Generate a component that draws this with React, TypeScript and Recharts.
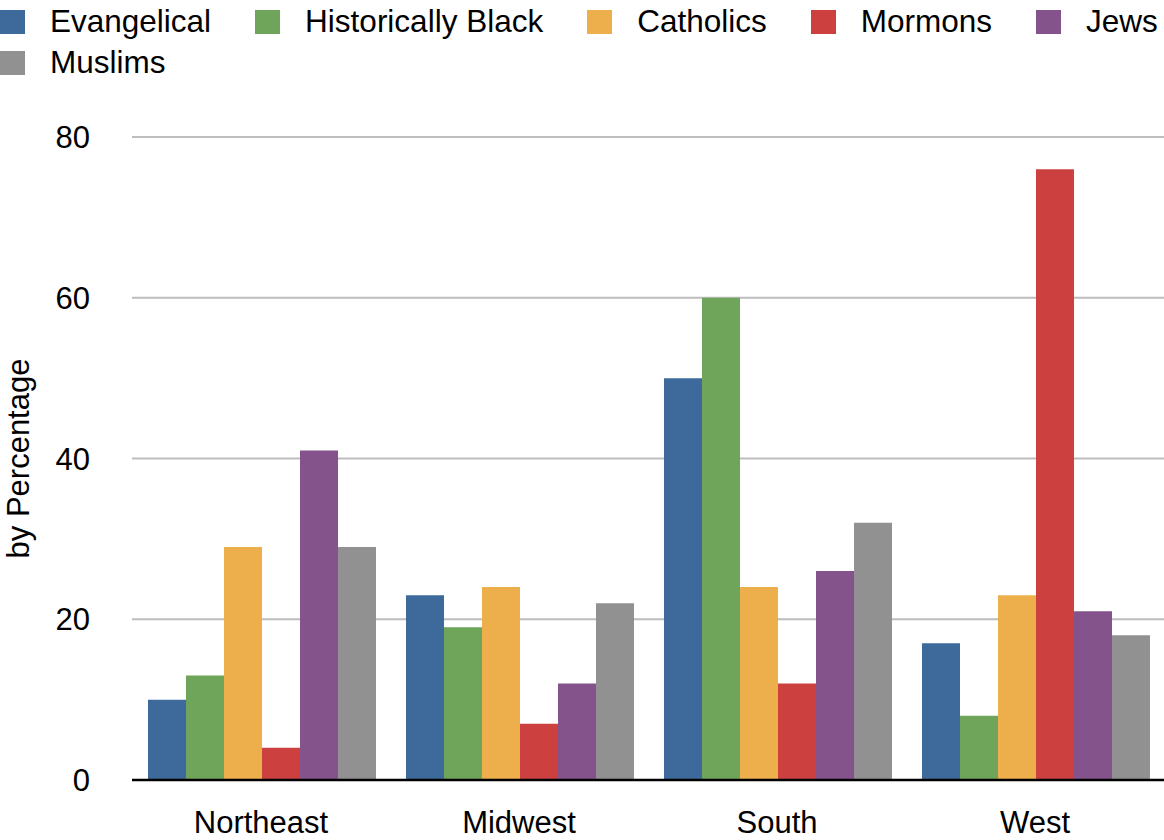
import React from 'react';
import { BarChart, Bar, XAxis, YAxis, CartesianGrid } from 'recharts';

const regions = ['Northeast', 'Midwest', 'South', 'West'];
const evangelical = [10, 23, 50, 17];
const historicallyBlack = [13, 19, 60, 8];
const catholics = [29, 24, 24, 23];
const mormons = [4, 7, 12, 76];
const jews = [41, 12, 26, 21];
const muslims = [29, 22, 32, 18];
const yTicks = [0, 20, 40, 60, 80];

const seriesNames = ['Evangelical', 'Historically Black', 'Catholics', 'Mormons', 'Jews', 'Muslims'];
const seriesValues = [evangelical, historicallyBlack, catholics, mormons, jews, muslims];
const seriesColors = ['#3d6a9b', '#6ea55a', '#ecaf4c', '#cc4140', '#84538c', '#909190'];
const legendRows = [[0, 1, 2, 3, 4], [5]];

const data = regions.map((r, i) => {
  const row: Record<string, string | number> = { region: r };
  seriesNames.forEach((s, k) => {
    row[s] = seriesValues[k][i];
  });
  return row;
});

const FONT = '"Liberation Sans", Arial, Helvetica, sans-serif';

const YLabel = (props: any) => {
  const vb = props.viewBox || {};
  const x = (vb.x || 0) + 18;
  const y = (vb.y || 0) + (vb.height || 0) / 2;
  return (
    <text
      x={x}
      y={y}
      transform={`rotate(-90, ${x}, ${y})`}
      textAnchor="middle"
      dominantBaseline="central"
      fontSize={31}
      fontFamily={FONT}
      fill="#000"
    >
      by Percentage
    </text>
  );
};

export default function App() {
  return (
    <div style={{ position: 'absolute', left: 0, top: 0, width: 1164, height: 840, overflow: 'hidden', background: '#fff', fontFamily: FONT }}>
      <div style={{ position: 'absolute', left: 0, top: 0, width: 1164, zIndex: 2 }}>
        {legendRows.map((row, ri) => (
          <div key={ri} style={{ display: 'flex', alignItems: 'center', height: 41, marginTop: ri === 0 ? 1 : 0, whiteSpace: 'nowrap' }}>
            {row.map((k, j) => (
              <div key={k} style={{ display: 'flex', alignItems: 'center', marginRight: j === row.length - 1 ? 0 : 44 }}>
                <div style={{ width: 25, height: 24, background: seriesColors[k], marginRight: 25, flex: 'none' }} />
                <span style={{ fontSize: 31.5, lineHeight: '41px', color: '#000' }}>{seriesNames[k]}</span>
              </div>
            ))}
          </div>
        ))}
      </div>
      <BarChart
        width={1164}
        height={840}
        data={data}
        margin={{ top: 137, right: 0, bottom: 0, left: 0 }}
        barCategoryGap={16}
        barGap={0}
      >
        <CartesianGrid horizontal vertical={false} stroke="#bdbdbd" strokeWidth={2} />
        <XAxis
          dataKey="region"
          height={60}
          tickLine={false}
          tickSize={0}
          tickMargin={31}
          axisLine={{ stroke: '#000', strokeWidth: 2.5 }}
          tick={{ fontSize: 31, fill: '#000', fontFamily: FONT }}
          interval={0}
        />
        <YAxis
          width={132}
          domain={[0, 80]}
          ticks={yTicks}
          axisLine={false}
          tickLine={false}
          tickSize={0}
          tickMargin={42}
          tick={{ fontSize: 31, fill: '#000', fontFamily: FONT }}
          label={<YLabel />}
        />
        {seriesNames.map((s, k) => (
          <Bar key={s} dataKey={s} fill={seriesColors[k]} isAnimationActive={false} />
        ))}
      </BarChart>
    </div>
  );
}
